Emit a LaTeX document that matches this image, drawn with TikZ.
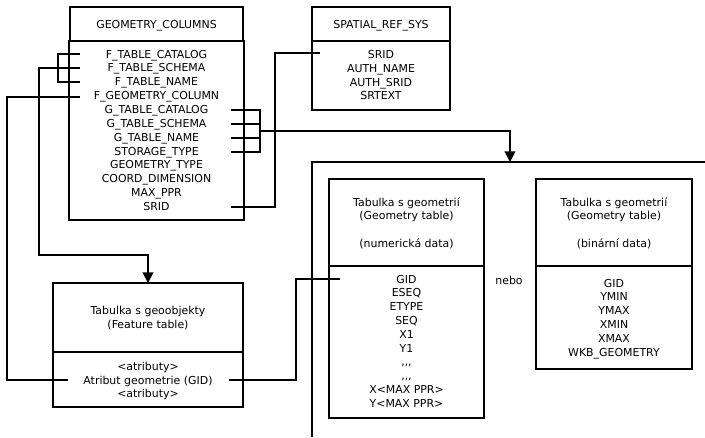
\documentclass[tikz,border=0pt]{standalone}
\usepackage{fontspec}
\setmainfont{DejaVu Sans}
\usetikzlibrary{arrows.meta}
\begin{document}
\begin{tikzpicture}[x=0.75pt,y=-0.75pt,line width=1.5pt,
  txt/.style={inner sep=0pt,font=\fontsize{8.2}{10}\selectfont,anchor=base},
  boxline/.style={draw=black,line width=1.5pt},
  conn/.style={draw=black,line width=1.5pt},
  arr/.style={conn,-{Triangle[width=8pt,length=8pt]}}]
\useasboundingbox (0,0) rectangle (705,437);
% GEOMETRY_COLUMNS
\draw[boxline] (70,7) rectangle (243,41);
\draw[boxline] (69,41) rectangle (244,220);
\node[txt] (gch) at (156.5,28.3) {GEOMETRY\_COLUMNS};
\foreach \t [count=\i from 0] in {F\_TABLE\_CATALOG,F\_TABLE\_SCHEMA,F\_TABLE\_NAME,F\_GEOMETRY\_COLUMN,G\_TABLE\_CATALOG,G\_TABLE\_SCHEMA,G\_TABLE\_NAME,STORAGE\_TYPE,GEOMETRY\_TYPE,COORD\_DIMENSION,MAX\_PPR,SRID}
  \node[txt] (gc\i) at (156.5,{54+13.86*\i+4}) {\t};
% SPATIAL_REF_SYS
\draw[boxline] (312,7) rectangle (450,41);
\draw[boxline] (312,41) rectangle (450,110);
\node[txt] (srsh) at (381,28.3) {SPATIAL\_REF\_SYS};
\foreach \t [count=\i from 0] in {SRID,AUTH\_NAME,AUTH\_SRID,SRTEXT}
  \node[txt] (srs\i) at (381,{54.5+13.8*\i+4}) {\t};
% Feature table
\draw[boxline] (53,283) rectangle (243,352);
\draw[boxline] (53,352) rectangle (243,407);
\node[txt] (fth1) at (148,314) {Tabulka s geoobjekty};
\node[txt] (fth2) at (148,328) {(Feature table)};
\node[txt] (ft0) at (148,370) {<atributy>};
\node[txt] (ft1) at (148,384) {Atribut geometrie (GID)};
\node[txt] (ft2) at (148,397) {<atributy>};
% Frame
\coordinate (fr1) at (705,162);
\coordinate (fr2) at (312,162);
\coordinate (fr3) at (312,437);
\draw[conn] (fr1) -- (fr2) -- (fr3);
% Geometry table numeric
\draw[boxline] (329,179) rectangle (484,266);
\draw[boxline] (329,266) rectangle (484,418);
\node[txt] (g1h1) at (406.5,206) {Tabulka s geometrií};
\node[txt] (g1h2) at (406.5,219) {(Geometry table)};
\node[txt] (g1h3) at (406.5,247) {(numerická data)};
\foreach \t [count=\i from 0] in {GID,ESEQ,ETYPE,SEQ,X1,Y1,{{,}{,}{,}},{{,}{,}{,}},X<MAX PPR>,Y<MAX PPR>}
  \node[txt] (g1r\i) at (406.5,{279+13.8*\i+4}) {\t};
% Geometry table binary
\draw[boxline] (536,179) rectangle (692,266);
\draw[boxline] (536,266) rectangle (692,369);
\node[txt] (g2h1) at (614,206) {Tabulka s geometrií};
\node[txt] (g2h2) at (614,219) {(Geometry table)};
\node[txt] (g2h3) at (614,247) {(binární data)};
\foreach \t [count=\i from 0] in {GID,YMIN,YMAX,XMIN,XMAX,WKB\_GEOMETRY}
  \node[txt] (g2r\i) at (614,{283+13.8*\i+4}) {\t};
\node[txt] (nebo) at (509,284) {nebo};
% connector end points
\coordinate (a1) at (80,54);
\coordinate (a2) at (80,68);
\coordinate (a3) at (80,82);
\coordinate (a4) at (80,97);
\coordinate (b1) at (231,110);
\coordinate (b2) at (231,124);
\coordinate (b3) at (231,138);
\coordinate (b4) at (231,152);
\coordinate (bs) at (231,207);
\coordinate (srsin) at (320,53);
\coordinate (fttop) at (148,283);
\coordinate (frtop) at (510,162);
\coordinate (ftl) at (68,380);
\coordinate (ftr) at (229,380);
\coordinate (gidin) at (340,279);
% connectors
\draw[conn] (a1) -- (58,54) -- (58,82) -- (a3);
\draw[arr] (a2) -- (39,68) -- (39,255) -- (148,255) -- (fttop);
\draw[conn] (a4) -- (7,97) -- (7,380) -- (ftl);
\draw[conn] (b1) -- (260,110) -- (260,152) -- (b4);
\draw[conn] (b2) -- (260,124);
\draw[conn] (b3) -- (260,138);
\draw[arr] (260,131) -- (510,131) -- (frtop);
\draw[conn] (bs) -- (275,207) -- (275,53) -- (srsin);
\draw[conn] (ftr) -- (296,380) -- (296,279) -- (gidin);
\end{tikzpicture}
\end{document}
